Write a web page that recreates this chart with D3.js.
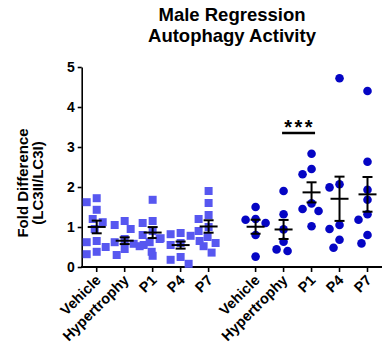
<!DOCTYPE html>
<html>
<head>
<meta charset="utf-8">
<script src="https://cdn.jsdelivr.net/npm/d3@7"></script>
<style>
    body { margin: 0; background: #fff; }
    text { font-family: "Liberation Sans", Arial, sans-serif; font-weight: bold; fill: #000; }
</style>
</head>
<body>
<div id="chart"></div>
<script>
var categories = ['Vehicle', 'Hypertrophy', 'P1', 'P4', 'P7'];

// left cohort (squares)
var squareVehicle = [1.72, 1.62, 1.43, 1.2, 1.12, 0.95, 0.65, 0.62, 0.38, 0.32];
var squareHypertrophy = [1.15, 1.05, 0.95, 0.7, 0.62, 0.58, 0.55, 0.5, 0.45, 0.38, 0.3];
var squareP1 = [1.68, 1.15, 1.1, 0.9, 0.8, 0.7, 0.62, 0.52, 0.28];
var squareP4 = [0.85, 0.82, 0.78, 0.72, 0.65, 0.6, 0.55, 0.25, 0.18, 0.08];
var squareP7 = [1.9, 1.6, 1.3, 1.2, 1.0, 0.9, 0.75, 0.6, 0.52, 0.36];

// right cohort (circles)
var circleVehicle = [1.5, 1.2, 1.18, 1.1, 0.8, 0.26];
var circleHypertrophy = [1.9, 1.32, 0.94, 0.63, 0.44, 0.4];
var circleP1 = [2.83, 2.45, 2.32, 1.59, 1.45, 1.4, 1.02];
var circleP4 = [4.72, 2.07, 1.99, 1.05, 0.95, 0.68, 0.48];
var circleP7 = [4.4, 2.63, 1.93, 1.68, 1.32, 1.18, 0.8, 0.59];

var yTicks = [0, 1, 2, 3, 4, 5];

var totalWidth = 390;
var totalHeight = 354;
var squareColor = '#5757f0';
var circleColor = '#0505c4';
var groupGap = 1.68;

var groups = [
    { shape: 'square', color: squareColor, sets: [squareVehicle, squareHypertrophy, squareP1, squareP4, squareP7] },
    { shape: 'circle', color: circleColor, sets: [circleVehicle, circleHypertrophy, circleP1, circleP4, circleP7] }
];

var svg = d3.select('#chart').append('svg')
    .attr('width', totalWidth)
    .attr('height', totalHeight);

var yScale = d3.scaleLinear().domain([0, 5]).range([267, 67]);
var xScale = d3.scaleLinear().domain([0, 4 + 5 + groupGap - 1]).range([96.7, 367.5]);

function xPos(g, i) {
    return xScale(i + g * (5 + groupGap - 1));
}

// title
svg.append('text').attr('x', 232).attr('y', 21).attr('text-anchor', 'middle')
    .attr('font-size', 18.5).text('Male Regression');
svg.append('text').attr('x', 232).attr('y', 42).attr('text-anchor', 'middle')
    .attr('font-size', 18.5).text('Autophagy Activity');

// y axis
var yAxis = d3.axisLeft(yScale).tickValues(yTicks).tickSizeOuter(0).tickSizeInner(4).tickPadding(3).tickFormat(d3.format('d'));
var yAxisGroup = svg.append('g').attr('transform', 'translate(81.7,0)').call(yAxis);
yAxisGroup.selectAll('path, line').attr('stroke', '#000').attr('stroke-width', 1.6);
yAxisGroup.selectAll('text').attr('font-size', 14).attr('font-family', '"Liberation Sans", Arial, sans-serif').attr('font-weight', 'bold');

svg.append('text')
    .attr('transform', 'translate(28,183) rotate(-90)')
    .attr('text-anchor', 'middle').attr('font-size', 15)
    .text('Fold Difference');
svg.append('text')
    .attr('transform', 'translate(43,183) rotate(-90)')
    .attr('text-anchor', 'middle').attr('font-size', 15)
    .text('(LC3II/LC3I)');

// x axis line + ticks
svg.append('line').attr('x1', 81).attr('x2', 382).attr('y1', 267).attr('y2', 267)
    .attr('stroke', '#000').attr('stroke-width', 1.8);

groups.forEach(function(group, g) {
    categories.forEach(function(cat, i) {
        var x = xPos(g, i);
        svg.append('line').attr('x1', x).attr('x2', x).attr('y1', 267).attr('y2', 272)
            .attr('stroke', '#000').attr('stroke-width', 1.6);
        svg.append('text')
            .attr('transform', 'translate(' + (x + 5) + ',281) rotate(-45)')
            .attr('text-anchor', 'end').attr('font-size', 14.5)
            .text(cat);
    });
});

// simple beeswarm so points don't sit on top of each other
function swarm(values, cx, size) {
    var placed = [];
    return values.map(function(v) {
        var y = yScale(v);
        var off = 0;
        for (var k = 0; k < 80; k++) {
            off = (k % 2 === 0 ? 1 : -1) * Math.ceil(k / 2);
            var hit = placed.some(function(p) {
                return Math.hypot(p.x - (cx + off), p.y - y) < size;
            });
            if (!hit) break;
        }
        var pt = { x: cx + off, y: y, v: v };
        placed.push(pt);
        return pt;
    });
}

groups.forEach(function(group, g) {
    group.sets.forEach(function(vals, i) {
        var cx = xPos(g, i);
        var pts = swarm(vals, cx, 10);
        if (group.shape === 'square') {
            svg.selectAll(null).data(pts).enter().append('rect')
                .attr('x', d => d.x - 4).attr('y', d => d.y - 4)
                .attr('width', 8).attr('height', 8)
                .attr('fill', group.color);
        } else {
            svg.selectAll(null).data(pts).enter().append('circle')
                .attr('cx', d => d.x).attr('cy', d => d.y).attr('r', 4.3)
                .attr('fill', group.color);
        }

        var mean = d3.mean(vals);
        var sem = d3.deviation(vals) / Math.sqrt(vals.length);
        var eb = svg.append('g').attr('stroke', '#000').attr('stroke-width', 2);
        eb.append('line').attr('x1', cx - 9).attr('x2', cx + 9).attr('y1', yScale(mean)).attr('y2', yScale(mean));
        eb.append('line').attr('x1', cx).attr('x2', cx).attr('y1', yScale(mean + sem)).attr('y2', yScale(mean - sem));
        eb.append('line').attr('x1', cx - 5).attr('x2', cx + 5).attr('y1', yScale(mean + sem)).attr('y2', yScale(mean + sem));
        eb.append('line').attr('x1', cx - 5).attr('x2', cx + 5).attr('y1', yScale(mean - sem)).attr('y2', yScale(mean - sem));
    });
});

// significance: hypertrophy vs P1 in right cohort
var sigY = yScale(3.35);
svg.append('line')
    .attr('x1', xPos(1, 1) - 1.5).attr('x2', xPos(1, 2) + 3.5)
    .attr('y1', sigY).attr('y2', sigY)
    .attr('stroke', '#000').attr('stroke-width', 2.5);
svg.append('text')
    .attr('x', (xPos(1, 1) + xPos(1, 2)) / 2 + 2).attr('y', sigY + 1)
    .attr('text-anchor', 'middle').attr('font-size', 20).attr('letter-spacing', 2.5)
    .text('***');
</script>
</body>
</html>
